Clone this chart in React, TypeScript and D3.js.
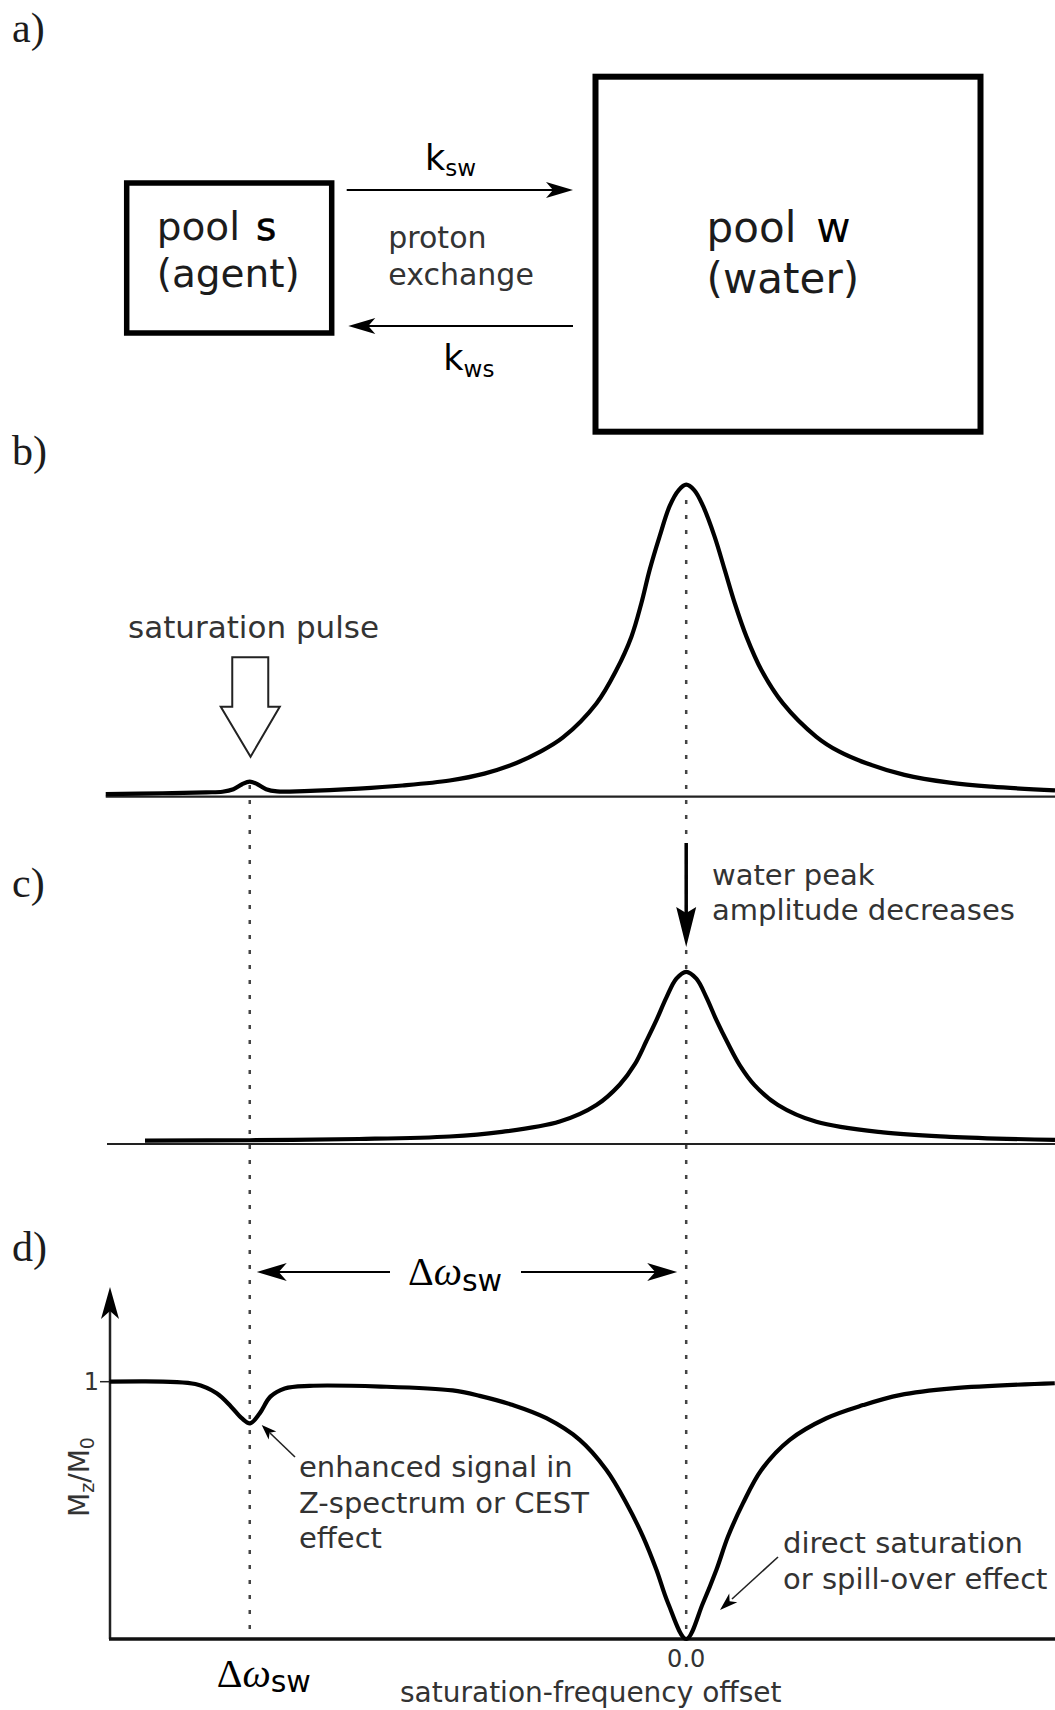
import React from 'react';
import * as d3 from 'd3';

// ---------- data ----------
// frequency offset axis (arbitrary units, water at 0, agent at -4)
const offsetDomain = [-5.29, 3.38];
const resonanceOffsets = [-4, 0]; // agent pool s, water pool w

// b) spectrum before saturation
const bOffsets = [-5.32, -4.8, -4.4, -4.25, -4.15, -4.07, -4.0, -3.93, -3.85, -3.75, -3.5, -3.0, -2.6, -2.168, -1.85, -1.556, -1.35, -1.129, -0.823, -0.64, -0.502, -0.411, -0.335, -0.245, -0.151, -0.07, 0, 0.075, 0.154, 0.261, 0.353, 0.445, 0.552, 0.689, 0.887, 1.193, 1.4, 1.652, 2.0, 2.415, 2.8, 3.38];
const bSignal = [0.008, 0.011, 0.014, 0.016, 0.024, 0.04, 0.048, 0.04, 0.024, 0.017, 0.018, 0.026, 0.036, 0.052, 0.074, 0.108, 0.142, 0.19, 0.299, 0.406, 0.513, 0.62, 0.727, 0.833, 0.932, 0.982, 1.0, 0.982, 0.932, 0.833, 0.727, 0.62, 0.513, 0.406, 0.299, 0.192, 0.145, 0.107, 0.07, 0.045, 0.032, 0.02];

// c) spectrum after saturation at the agent frequency
const cOffsets = [-4.96, -4.0, -3.0, -2.168, -1.709, -1.159, -0.823, -0.61, -0.472, -0.365, -0.273, -0.181, -0.09, 0, 0.093, 0.185, 0.277, 0.383, 0.49, 0.628, 0.841, 1.193, 1.804, 2.415, 3.38];
const cSignal = [0.011, 0.012, 0.016, 0.024, 0.038, 0.072, 0.125, 0.19, 0.255, 0.33, 0.397, 0.47, 0.53, 0.552, 0.53, 0.47, 0.397, 0.322, 0.253, 0.188, 0.125, 0.071, 0.037, 0.023, 0.013];

// d) Z-spectrum Mz/M0
const dOffsets = [-5.284, -4.499, -4.303, -4.171, -4.074, -3.997, -3.909, -3.811, -3.68, -3.451, -2.797, -2.141, -1.893, -1.588, -1.281, -0.976, -0.731, -0.548, -0.396, -0.273, -0.167, 0, 0.154, 0.277, 0.383, 0.521, 0.689, 0.949, 1.285, 1.621, 1.957, 2.439, 3.378];
const dSignal = [1.0, 0.991, 0.955, 0.903, 0.858, 0.838, 0.877, 0.942, 0.974, 0.984, 0.981, 0.966, 0.945, 0.909, 0.858, 0.774, 0.657, 0.528, 0.398, 0.269, 0.14, 0, 0.14, 0.269, 0.398, 0.528, 0.657, 0.774, 0.858, 0.909, 0.948, 0.974, 0.994];

const yTickValues = [1];
const yTickLabels = ['1'];
const xTickValues = [0];
const xTickLabels = ['0.0'];

const SANS = '"DejaVu Sans", "Noto Sans", sans-serif';
const SERIF = '"Liberation Serif", "Times New Roman", serif';
const INK = '#1c1c1c';
const GREY = '#333';

function head(tx: number, ty: number, angleDeg: number, len: number, hw: number, notch: number) {
  const a = (angleDeg * Math.PI) / 180;
  const ux = Math.cos(a), uy = Math.sin(a);
  const px = -uy, py = ux;
  const bx = tx - ux * len, by = ty - uy * len;
  const p1 = [bx + px * hw, by + py * hw];
  const p2 = [bx - px * hw, by - py * hw];
  const n = [tx - ux * (len - notch), ty - uy * (len - notch)];
  return `M${tx},${ty}L${p1[0]},${p1[1]}L${n[0]},${n[1]}L${p2[0]},${p2[1]}Z`;
}

export default function App() {
  const x = d3.scaleLinear().domain(offsetDomain).range([109, 1055]);
  const yB = d3.scaleLinear().domain([0, 1]).range([796.7, 484.7]);
  const yC = d3.scaleLinear().domain([0, 1]).range([1144, 832]);
  const yD = d3.scaleLinear().domain([0, 1]).range([1639, 1381.7]);

  const mk = (xs: number[], ys: number[], yS: d3.ScaleLinear<number, number>) =>
    d3
      .line<number>()
      .x((_, i) => x(xs[i]))
      .y((_, i) => yS(ys[i]))
      .curve(d3.curveCatmullRom.alpha(0.5))(xs) || '';

  const pathB = mk(bOffsets, bSignal, yB);
  const pathC = mk(cOffsets, cSignal, yC);
  const pathD = mk(dOffsets, dSignal, yD);

  const xs = x(resonanceOffsets[0]);
  const xw = x(resonanceOffsets[1]);

  const dotted = { stroke: '#444', strokeWidth: 2.5, strokeDasharray: '4 11' };

  return (
    <svg
      width={1055}
      height={1710}
      viewBox="0 0 1055 1710"
      style={{ position: 'absolute', left: 0, top: 0, background: '#fff' }}
    >
      <rect x={0} y={0} width={1055} height={1710} fill="#fff" />

      {/* ---------- panel a ---------- */}
      <text x={12} y={42} fontFamily={SERIF} fontSize={42} fill={INK}>a)</text>
      <rect x={126.7} y={183} width={205} height={150} fill="none" stroke="#000" strokeWidth={5.5} />
      <rect x={595.5} y={76.7} width={385} height={355} fill="none" stroke="#000" strokeWidth={6} />
      <text x={156.7} y={240} fontFamily={SANS} fontSize={39} fill={INK}>
        pool<tspan dx={16} fill="#000" stroke="#000" strokeWidth={0.6}>s</tspan>
      </text>
      <text x={156.7} y={287} fontFamily={SANS} fontSize={39} fill={INK}>(agent)</text>
      <text x={706.6} y={241.7} fontFamily={SANS} fontSize={42} fill={INK}>
        pool<tspan dx={20} fill="#000">w</tspan>
      </text>
      <text x={706.6} y={293.3} fontFamily={SANS} fontSize={42} fill={INK}>(water)</text>

      <line x1={346.7} y1={190} x2={560} y2={190} stroke="#000" strokeWidth={2} />
      <path d={head(573, 190, 0, 27, 8, 7)} fill="#000" />
      <line x1={361} y1={326} x2={573} y2={326} stroke="#000" strokeWidth={2} />
      <path d={head(348.3, 326, 180, 27, 8, 7)} fill="#000" />

      <text x={425} y={170} fontFamily={SANS} fontSize={35} fill="#000">
        k<tspan dy={6} fontSize={23}>sw</tspan>
      </text>
      <text x={443.3} y={370} fontFamily={SANS} fontSize={35} fill="#000">
        k<tspan dy={7} fontSize={23}>ws</tspan>
      </text>
      <text x={388.3} y={248.3} fontFamily={SANS} fontSize={30} fill={GREY}>proton</text>
      <text x={388.3} y={285} fontFamily={SANS} fontSize={30} fill={GREY}>exchange</text>

      {/* ---------- dotted guide lines ---------- */}
      <line x1={xw} y1={500} x2={xw} y2={yD(0)} {...dotted} />
      <line x1={xs} y1={785} x2={xs} y2={1630} {...dotted} />

      {/* ---------- panel b ---------- */}
      <text x={12} y={465} fontFamily={SERIF} fontSize={42} fill={INK}>b)</text>
      <line x1={x(-5.32)} y1={yB(0)} x2={1055} y2={yB(0)} stroke="#222" strokeWidth={2.2} />
      <path d={pathB} fill="none" stroke="#000" strokeWidth={4.2} strokeLinejoin="round" />
      <path
        d={`M${xs - 17.5},657.3 L${xs + 18.5},657.3 L${xs + 18.5},706.7 L${xs + 30},706.7 L${xs + 0.8},756.7 L${xs - 29},706.7 L${xs - 17.5},706.7 Z`}
        fill="#fff"
        stroke="#222"
        strokeWidth={2}
        strokeLinejoin="miter"
      />
      <text x={128} y={638} fontFamily={SANS} fontSize={31} fill={GREY}>saturation pulse</text>

      {/* ---------- panel c ---------- */}
      <text x={12} y={897} fontFamily={SERIF} fontSize={42} fill={INK}>c)</text>
      <line x1={107} y1={yC(0)} x2={1055} y2={yC(0)} stroke="#222" strokeWidth={2.2} />
      <path d={pathC} fill="none" stroke="#000" strokeWidth={4.2} strokeLinejoin="round" />
      <line x1={xw} y1={843} x2={xw} y2={915} stroke="#000" strokeWidth={3.5} />
      <path d={head(xw, 947, 90, 40, 10, 6)} fill="#000" />
      <text x={712} y={885} fontFamily={SANS} fontSize={29} fill={GREY}>water peak</text>
      <text x={712} y={920} fontFamily={SANS} fontSize={29} fill={GREY}>amplitude decreases</text>

      {/* ---------- panel d ---------- */}
      <text x={12} y={1261} fontFamily={SERIF} fontSize={42} fill={INK}>d)</text>

      {/* Δω double arrow */}
      <line x1={270} y1={1272} x2={390} y2={1272} stroke="#000" strokeWidth={2} />
      <path d={head(xs + 7, 1272, 180, 30, 9, 8)} fill="#000" />
      <line x1={521} y1={1272} x2={665} y2={1272} stroke="#000" strokeWidth={2} />
      <path d={head(xw - 9, 1272, 0, 30, 9, 8)} fill="#000" />
      <text x={408} y={1285} fontFamily={SERIF} fontSize={40} fill="#000">
        Δ<tspan fontStyle="italic">ω</tspan>
        <tspan fontFamily={SANS} fontSize={30} dy={6}>sw</tspan>
      </text>

      {/* axes */}
      <line x1={110} y1={yD(0)} x2={110} y2={1300} stroke="#222" strokeWidth={2.5} />
      <path d={head(110, 1287, -90, 32, 9, 8)} fill="#000" />
      <line x1={109} y1={yD(0)} x2={1055} y2={yD(0)} stroke="#111" strokeWidth={3.5} />
      {yTickValues.map((v, i) => (
        <g key={`yt${i}`}>
          <line x1={100} y1={yD(v)} x2={110} y2={yD(v)} stroke="#222" strokeWidth={1.5} />
          <text x={99} y={yD(v) + 8.5} textAnchor="end" fontFamily={SANS} fontSize={24} fill={GREY}>
            {yTickLabels[i]}
          </text>
        </g>
      ))}
      {xTickValues.map((v, i) => (
        <text key={`xt${i}`} x={x(v)} y={1667} textAnchor="middle" fontFamily={SANS} fontSize={24} fill={GREY}>
          {xTickLabels[i]}
        </text>
      ))}
      <text x={400} y={1702} fontFamily={SANS} fontSize={28} fill={GREY}>saturation-frequency offset</text>
      <text x={216.7} y={1687} fontFamily={SERIF} fontSize={40} fill="#000">
        Δ<tspan fontStyle="italic">ω</tspan>
        <tspan fontFamily={SANS} fontSize={30} dy={5}>sw</tspan>
      </text>
      <text transform="translate(89,1477) rotate(-90)" textAnchor="middle" fontFamily={SANS} fontSize={28} fill={GREY}>
        M<tspan fontSize={19} dy={5}>z</tspan>
        <tspan dy={-5}>/M</tspan>
        <tspan fontSize={19} dy={5}>0</tspan>
      </text>

      <path d={pathD} fill="none" stroke="#000" strokeWidth={4.2} strokeLinejoin="round" />

      {/* annotations */}
      <line x1={295} y1={1457} x2={270} y2={1433} stroke="#222" strokeWidth={1.6} />
      <path d={head(261.7, 1425, -136, 15, 5.5, 4)} fill="#000" />
      <text x={299} y={1477} fontFamily={SANS} fontSize={29} fill={GREY}>enhanced signal in</text>
      <text x={299} y={1513} fontFamily={SANS} fontSize={29} fill={GREY}>Z-spectrum or CEST</text>
      <text x={299} y={1548} fontFamily={SANS} fontSize={29} fill={GREY}>effect</text>

      <line x1={778} y1={1557} x2={732} y2={1599} stroke="#222" strokeWidth={1.6} />
      <path d={head(720, 1610, 137.6, 18, 6, 5)} fill="#000" />
      <text x={783} y={1553} fontFamily={SANS} fontSize={29} fill={GREY}>direct saturation</text>
      <text x={783} y={1589} fontFamily={SANS} fontSize={29} fill={GREY}>or spill-over effect</text>
    </svg>
  );
}
